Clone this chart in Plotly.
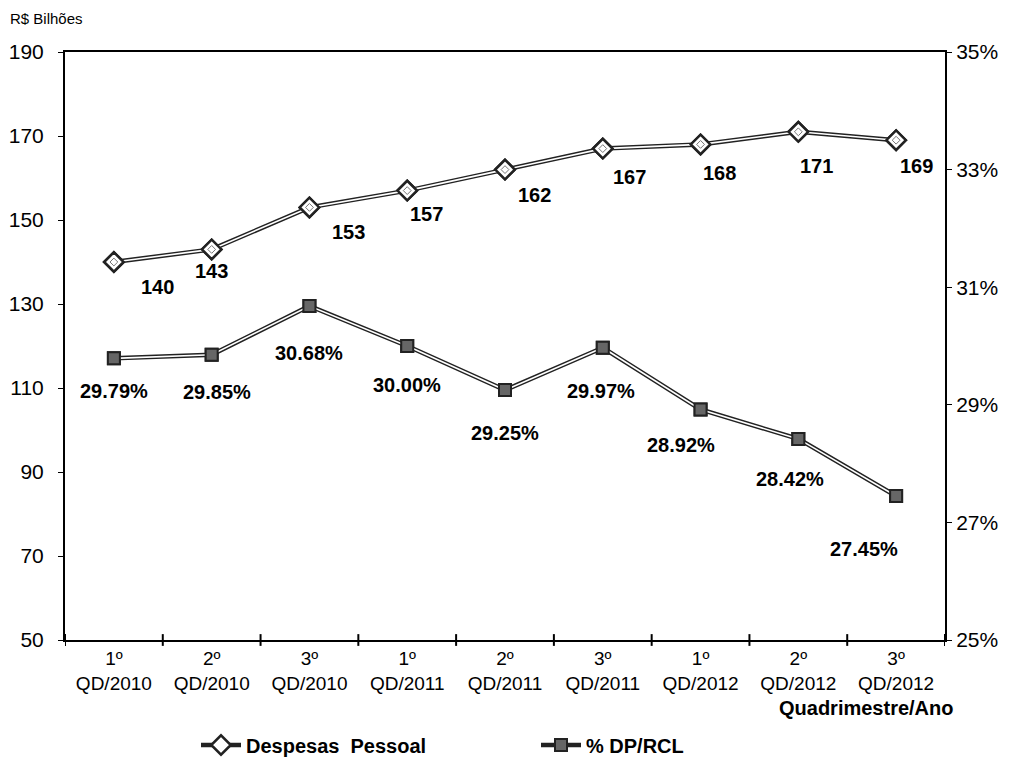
import plotly.graph_objects as go

categories = ["1º<br>QD/2010", "2º<br>QD/2010", "3º<br>QD/2010",
              "1º<br>QD/2011", "2º<br>QD/2011", "3º<br>QD/2011",
              "1º<br>QD/2012", "2º<br>QD/2012", "3º<br>QD/2012"]
despesas = [140, 143, 153, 157, 162, 167, 168, 171, 169]
dp_rcl = [29.79, 29.85, 30.68, 30.00, 29.25, 29.97, 28.92, 28.42, 27.45]
left_ticks = [50, 70, 90, 110, 130, 150, 170, 190]
right_ticks = [25, 27, 29, 31, 33, 35]

# label offsets in pixels (layout only)
desp_off = [(44, -25), (0, -22), (39, -25), (19, -23), (29, -25), (27, -28), (19, -29), (18, -34), (20, -26)]
pct_off = [(0, -33), (5, -37), (0, -47), (0, -39), (0, -43), (-2, -43), (-20, -35), (-8, -40), (-32, -53)]

x = list(range(len(categories)))
dark = "#222222"
font = "Liberation Sans, Arial, sans-serif"

# plot area in pixels: x 65..945, y 52..640
PL, PR, PT, PB = 65, 945, 52, 640
def fx(px):
    return (px - PL) / (PR - PL)
def fy(py):
    return (PB - py) / (PB - PT)

fig = go.Figure()
fig.add_trace(go.Scatter(x=x, y=despesas, mode="lines+markers", name="<b>Despesas  Pessoal</b>",
                         legendgroup="d",
                         line=dict(color=dark, width=4.5),
                         marker=dict(symbol="diamond", size=15, color="white",
                                     line=dict(color=dark, width=2.5))))
fig.add_trace(go.Scatter(x=x, y=despesas, mode="lines", showlegend=False, legendgroup="d",
                         line=dict(color="white", width=1.6), hoverinfo="skip"))
fig.add_trace(go.Scatter(x=x, y=despesas, mode="markers", showlegend=False, legendgroup="d",
                         marker=dict(symbol="diamond", size=15, color="white",
                                     line=dict(color=dark, width=2.5)), hoverinfo="skip"))
fig.add_trace(go.Scatter(x=x, y=despesas, mode="markers", showlegend=False, legendgroup="d",
                         marker=dict(symbol="diamond-open", size=6, color="#777777",
                                     line=dict(color="#777777", width=1)), hoverinfo="skip"))
fig.add_trace(go.Scatter(x=x, y=dp_rcl, yaxis="y2", mode="lines+markers", name="<b>% DP/RCL</b>",
                         legendgroup="p",
                         line=dict(color=dark, width=4.5),
                         marker=dict(symbol="square", size=12, color="#666666",
                                     line=dict(color=dark, width=2))))
fig.add_trace(go.Scatter(x=x, y=dp_rcl, yaxis="y2", mode="lines", showlegend=False, legendgroup="p",
                         line=dict(color="white", width=1.6), hoverinfo="skip"))
fig.add_trace(go.Scatter(x=x, y=dp_rcl, yaxis="y2", mode="markers", showlegend=False, legendgroup="p",
                         marker=dict(symbol="square", size=12, color="#666666",
                                     line=dict(color=dark, width=2)), hoverinfo="skip"))

ann = []
for i, v in enumerate(despesas):
    dx, dy = desp_off[i]
    ann.append(dict(x=i, y=v, xref="x", yref="y", text=f"<b>{v}</b>", showarrow=False,
                    xshift=dx, yshift=dy, font=dict(size=20, color="black", family=font)))
for i, v in enumerate(dp_rcl):
    dx, dy = pct_off[i]
    ann.append(dict(x=i, y=v, xref="x", yref="y2", text=f"<b>{v:.2f}%</b>", showarrow=False,
                    xshift=dx, yshift=dy, font=dict(size=20, color="black", family=font)))
ann.append(dict(x=fx(8), y=fy(18), xref="paper", yref="paper", xanchor="left", yanchor="middle",
                text="R$ Bilhões", showarrow=False, font=dict(size=15, color="black", family=font)))
ann.append(dict(x=fx(955), y=fy(708), xref="paper", yref="paper", xanchor="right",
                yanchor="middle", text="<b>Quadrimestre/Ano</b>", showarrow=False,
                font=dict(size=20, color="black", family=font)))

fig.update_layout(
    width=1011, height=761,
    paper_bgcolor="white", plot_bgcolor="white",
    margin=dict(l=PL, r=1011 - PR, t=PT, b=761 - PB, autoexpand=False),
    font=dict(family=font, color="black"),
    xaxis=dict(tickmode="array", tickvals=x, ticktext=categories, range=[-0.5, 8.5],
               showgrid=False, zeroline=False, showline=True, linecolor="black", linewidth=2,
               mirror=True, ticks="", tickfont=dict(size=19), automargin=False),
    yaxis=dict(range=[50, 190], tickvals=left_ticks, showgrid=False, zeroline=False,
               showline=True, linecolor="black", linewidth=2, ticks="outside", ticklen=5,
               tickcolor="black", tickfont=dict(size=21), ticklabelstandoff=10, automargin=False),
    yaxis2=dict(range=[25, 35], overlaying="y", side="right", tickvals=right_ticks,
                ticktext=[f"{t}%" for t in right_ticks], showgrid=False, zeroline=False,
                showline=True, linecolor="black", linewidth=2, ticks="outside", ticklen=5,
                tickcolor="black", tickfont=dict(size=21), automargin=False),
    legend=dict(orientation="h", x=fx(196), xanchor="left", y=fy(745), yanchor="middle",
                font=dict(size=20, family=font), itemwidth=40, traceorder="normal",
                entrywidth=285),
    annotations=ann,
    showlegend=True,
)
for k in range(10):
    fig.add_shape(type="line", xref="x", yref="paper", x0=k - 0.5, x1=k - 0.5, y0=-0.01, y1=0.01,
                  line=dict(color="black", width=2))

fig.write_html("out.html", config={"displayModeBar": False},
               post_script="document.body.style.margin='0';document.body.style.padding='0';"
                           "document.body.style.overflow='hidden';")
